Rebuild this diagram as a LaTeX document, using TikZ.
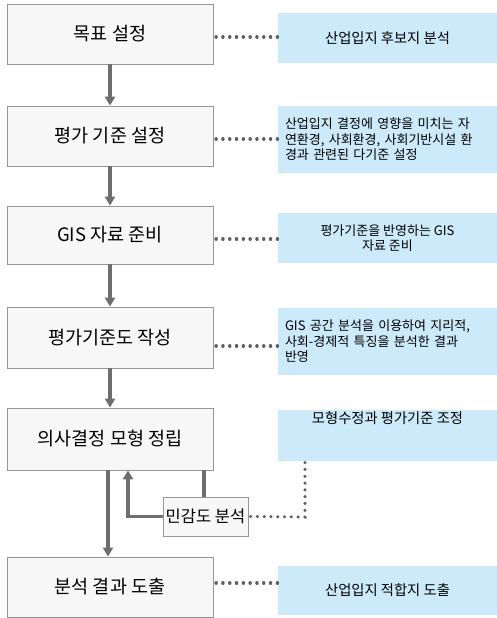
\documentclass[tikz,border=0pt]{standalone}
\usepackage{fontspec}
\setmainfont{Noto Sans CJK KR}
\usetikzlibrary{arrows.meta}
\definecolor{boxfill}{RGB}{247,247,247}
\definecolor{boxline}{RGB}{150,150,150}
\definecolor{bluefill}{RGB}{205,234,250}
\definecolor{arrgray}{RGB}{110,110,110}
\definecolor{dotgray}{RGB}{95,95,95}
\tikzset{
  stepbox/.style={draw=boxline, line width=0.8pt, fill=boxfill, minimum width=206pt, inner sep=0pt, font=\fontsize{18.5}{20}\selectfont},
  notebox/.style={fill=bluefill, minimum width=219pt, inner sep=0pt, font=\fontsize{14.3}{16}\selectfont},
  multinote/.style={notebox, font=\fontsize{13}{15.5}\selectfont},
  sensbox/.style={draw=boxline, line width=0.8pt, fill=boxfill, minimum width=85pt, minimum height=39pt, inner sep=0pt, font=\fontsize{16.5}{18}\selectfont},
  arr/.style={draw=arrgray, line width=3.5pt, -{Triangle[width=10pt,length=9pt]}},
  plainline/.style={draw=arrgray, line width=3.5pt},
  dotline/.style={draw=dotgray, line width=3.2pt, line cap=round, dash pattern=on 0.3pt off 6.5pt}
}
\begin{document}
\begin{tikzpicture}[x=1pt,y=-1pt]
\useasboundingbox (0,0) rectangle (497,618);
% left step boxes
\node[stepbox, minimum height=60pt] (lb1) at (110,34) {목표 설정};
\node[stepbox, minimum height=60pt] (lb2) at (110,136) {평가 기준 설정};
\node[stepbox, minimum height=58pt] (lb3) at (110,235) {GIS 자료 준비};
\node[stepbox, minimum height=61pt] (lb4) at (110,337.5) {평가기준도 작성};
\node[stepbox, minimum height=62pt] (lb5) at (110,439) {의사결정 모형 정립};
\node[stepbox, minimum height=60pt] (lb6) at (110,587) {분석 결과 도출};
% right note boxes
\node[notebox, minimum height=50pt] (rb1) at (387.5,38) {산업입지 후보지 분석};
\node[multinote, minimum height=67pt, text width=205pt, align=left] (rb2) at (387.5,139.5) {산업입지 결정에 영향을 미치는 자\\연환경, 사회환경, 사회기반시설 환\\경과 관련된 다기준 설정};
\node[multinote, minimum height=50pt, align=center] (rb3) at (387.5,238) {평가기준을 반영하는 GIS\\자료 준비};
\node[multinote, minimum height=67pt, text width=205pt, align=left] (rb4) at (387.5,341.5) {GIS 공간 분석을 이용하여 지리적,\\사회-경제적 특징을 분석한 결과\\반영};
\node[notebox, minimum height=51pt] (rb5) at (387.5,435.5) {};
\node[anchor=north, inner sep=0pt, font=\fontsize{14.3}{16}\selectfont] (rb5t) at ([yshift=-2pt]rb5.north) {모형수정과 평가기준 조정};
\node[notebox, minimum height=49pt] (rb6) at (387.5,590.5) {산업입지 적합지 도출};
% sensitivity box
\node[sensbox] (sens) at (205.5,516.5) {민감도 분석};
% arrows
\draw[arr] (lb1.south) -- (lb2.north);
\draw[arr] (lb2.south) -- (lb3.north);
\draw[arr] (lb3.south) -- (lb4.north);
\draw[arr] (lb4.south) -- (lb5.north);
\draw[arr] ([xshift=-2pt]lb5.south) -- ([xshift=-2pt]lb6.north);
\draw[arr] (sens.west) -| ([xshift=18pt]lb5.south);
\draw[plainline] ([xshift=-1.5pt]sens.north |- lb5.south) -- ([xshift=-1.5pt]sens.north);
% dotted connectors
\draw[dotline] (216,37) -- (rb1.west |- 0,37);
\draw[dotline] (216,139) -- (rb2.west |- 0,139);
\draw[dotline] (216,239) -- (rb3.west |- 0,239);
\draw[dotline] (216,346) -- (rb4.west |- 0,346);
\draw[dotline] (216,583) -- (rb6.west |- 0,583);
\coordinate (dc) at (305,517);
\draw[dotline] ([xshift=2pt]sens.east) -- (dc) -- (dc |- rb5.south);
\end{tikzpicture}
\end{document}
